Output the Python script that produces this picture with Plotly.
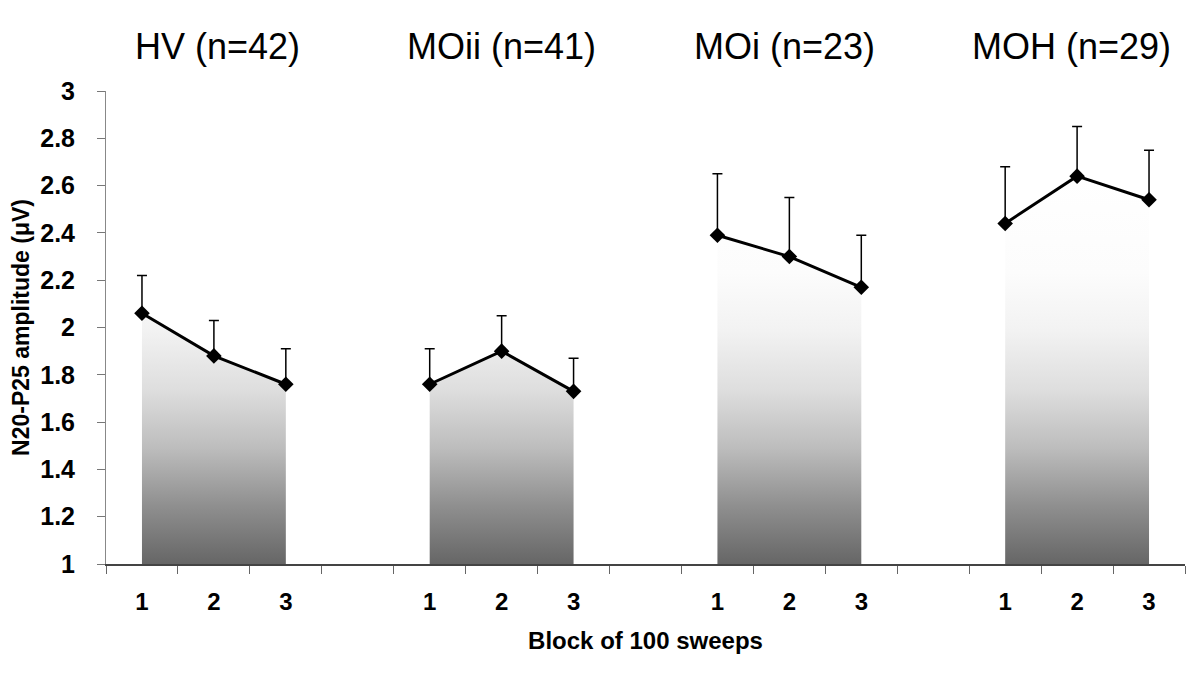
import plotly.graph_objects as go

# ---- data ----
groups = ["HV (n=42)", "MOii (n=41)", "MOi (n=23)", "MOH (n=29)"]
blocks = ["1", "2", "3"]
hv_mean = [2.06, 1.88, 1.76]
moii_mean = [1.76, 1.90, 1.73]
moi_mean = [2.39, 2.30, 2.17]
moh_mean = [2.44, 2.64, 2.54]
hv_err = [0.16, 0.15, 0.15]
moii_err = [0.15, 0.15, 0.14]
moi_err = [0.26, 0.25, 0.22]
moh_err = [0.24, 0.21, 0.21]

means = [hv_mean, moii_mean, moi_mean, moh_mean]
errs = [hv_err, moii_err, moi_err, moh_err]

FONT = "Arial, Liberation Sans, sans-serif"
gmax = max(max(m) for m in means)
title_xshift = [4, 0, -5, -6]

fig = go.Figure()
tickvals, ticktext = [], []
for g, (m, e) in enumerate(zip(means, errs)):
    xs = [g * 4 + i for i in range(len(blocks))]
    tickvals += xs
    ticktext += blocks
    # gradient area
    fig.add_trace(go.Scatter(
        x=xs, y=m, mode="none", fill="tozeroy",
        fillgradient=dict(
            type="vertical", start=1, stop=gmax,
            colorscale=[[0, "#666666"], [0.15, "#8f8f8f"], [0.3, "#bdbdbd"],
                        [0.45, "#dedede"], [0.6, "#f2f2f2"], [0.75, "#fcfcfc"],
                        [1, "#ffffff"]]),
        showlegend=False, hoverinfo="skip"))
    # line + markers + error bars
    fig.add_trace(go.Scatter(
        x=xs, y=m, mode="lines+markers",
        line=dict(color="black", width=3),
        marker=dict(symbol="diamond", size=12, color="black"),
        error_y=dict(type="data", symmetric=False, array=e,
                     arrayminus=[0] * len(e), color="black",
                     thickness=1.5, width=5),
        showlegend=False))
    fig.add_annotation(x=xs[1], y=1, xref="x", yref="paper", yanchor="bottom",
                       yshift=22, xshift=title_xshift[g], text=groups[g],
                       showarrow=False,
                       font=dict(family=FONT, size=36, color="black"))

fig.update_layout(
    width=1200, height=678,
    margin=dict(l=96, r=23, t=83, b=122),
    paper_bgcolor="white", plot_bgcolor="white",
    font=dict(family=FONT, color="black"),
)
fig.update_xaxes(
    range=[-0.5, 14.5], tickmode="array", tickvals=tickvals, ticktext=ticktext,
    ticks="", showgrid=False, zeroline=False,
    showline=True, linecolor="#444444", linewidth=1.5,
    tickfont=dict(family=FONT, size=24, color="black", weight="bold"),
    ticklabelstandoff=15,
    minor=dict(tick0=-0.5, dtick=1, ticks="outside", ticklen=8,
               tickcolor="#666666", tickwidth=1, showgrid=False),
    title=dict(text="<b>Block of 100 sweeps</b>", standoff=19,
               font=dict(family=FONT, size=24, color="black")),
)
fig.update_yaxes(
    range=[1, 3], dtick=0.2, tick0=1, ticks="outside", ticklen=8,
    tickcolor="#777777", showgrid=False, zeroline=False,
    showline=True, linecolor="#888888", linewidth=1,
    tickfont=dict(family=FONT, size=25, color="black", weight="bold"),
    ticklabelstandoff=17,
    title=dict(text="<b>N20-P25 amplitude (μV)</b>", standoff=4,
               font=dict(family=FONT, size=23, color="black")),
)

fig.write_html("out.html")
